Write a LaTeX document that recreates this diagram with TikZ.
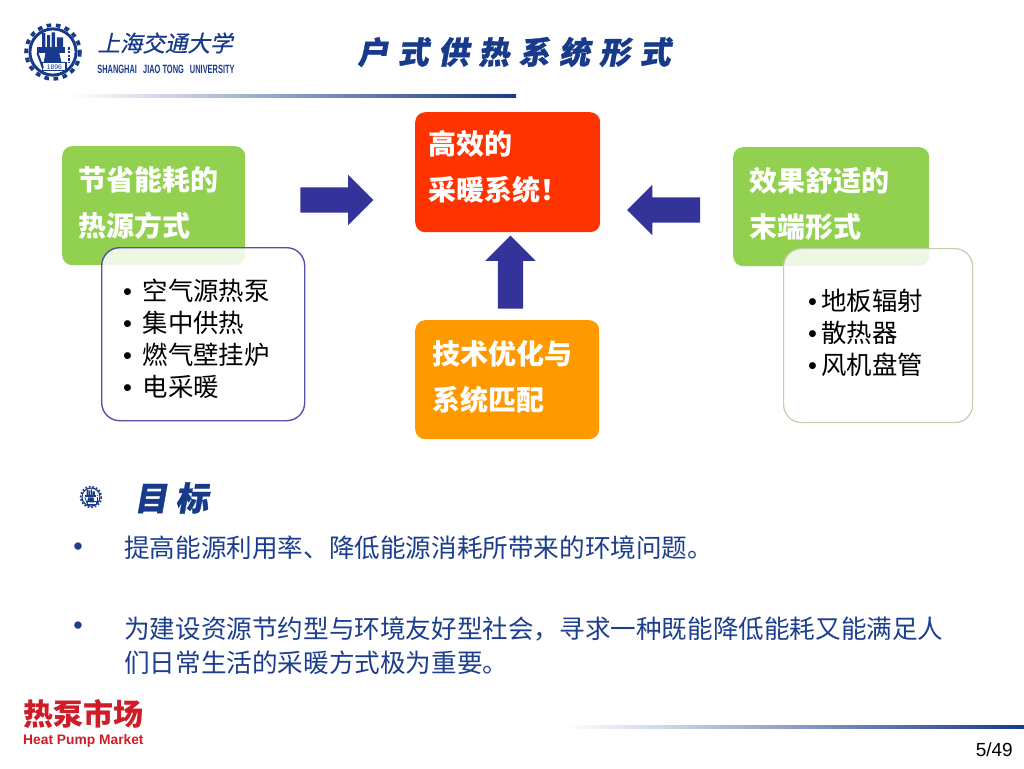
\documentclass[tikz,border=0pt]{standalone}
\usepackage{fontspec}
\setmainfont{Liberation Sans}
\newfontfamily\cjk{Noto Sans CJK SC}
\newfontfamily\cjkslant[FakeSlant=.22,FakeBold=.6]{Noto Sans CJK SC}
\newfontfamily\cjktitle[FakeSlant=.18,LetterSpace=30,BoldFeatures={FakeSlant=.18,LetterSpace=30,FakeBold=1}]{Noto Sans CJK SC}
\newfontfamily\logofont[FakeStretch=.62]{Liberation Sans}
\usetikzlibrary{shapes.arrows}
\definecolor{sjtublue}{RGB}{24,58,138}
\definecolor{bodyblue}{RGB}{28,62,140}
\definecolor{arrowblue}{RGB}{51,51,153}
\definecolor{boxgreen}{RGB}{146,208,80}
\definecolor{boxred}{RGB}{255,51,0}
\definecolor{boxorange}{RGB}{255,153,0}
\definecolor{marketred}{RGB}{206,28,40}
\tikzset{
	seal/.pic={
		\draw[sjtublue,line width=1.8*#1,dash pattern=on 2.2*#1 off 2.2*#1] (0,0) circle (12.8);
		\draw[sjtublue,line width=1.4*#1,fill=white] (0,0) circle (11);
		\fill[sjtublue] (-5.2,-9) rectangle (-3.6,-2.4) (-2.8,-8) rectangle (-1.4,-2.4) (-.6,-9.4) rectangle (1,-2.4) (1.8,-7) rectangle (4.8,-2.4);
		\fill[sjtublue] (-7.6,-2.4) rectangle (5.7,.5);
		\fill[sjtublue] (-3.6,.5) -- (3,.5) -- (4,4.8) -- (-4.4,4.8) -- cycle;
		\draw[sjtublue,line width=1*#1] (-7.4,.5) -- (-4.8,7.6);
		\draw[sjtublue,line width=.5*#1] (-4.8,5.2) rectangle (6.2,9);
		\node[transform shape,inner sep=0pt,text=sjtublue,font=\fontsize{3.2}{3.2}\selectfont] (year) at (.7,7.1) {1896};
		\draw[sjtublue,line width=1*#1,dash pattern=on 1.3*#1 off .5*#1] (7.6,-2.4) -- (7.6,5.2);
	}
}
\begin{document}
\begin{tikzpicture}
	[x=1pt,y=-1pt,
	heading/.style ={rounded corners=10pt, inner sep=0pt, anchor=north west, align=left, text=white, font=\cjk\bfseries\fontsize{28}{46}\selectfont},
	listbox/.style ={rounded corners=18pt, fill=white, fill opacity=.85, text opacity=1, inner sep=0pt, anchor=north west, align=left, font=\cjk\fontsize{25.4}{32}\selectfont},
	blockarrow/.style ={single arrow, fill=arrowblue, single arrow head extend=12.5pt, minimum width=50pt, minimum height=73pt},
	bodytext/.style ={anchor=north west, inner sep=0pt, align=left, text=bodyblue, font=\cjk\fontsize{25.6}{33.5}\selectfont},
	bulletmark/.style ={inner sep=0pt, text=bodyblue, font=\fontsize{27}{27}\selectfont},
	fade/.style ={left color=white, right color=sjtublue}]
	\useasboundingbox (0,0) rectangle (1024,768);
	% header
	\pic (sealbig) at (53,52) [scale=2.1] {seal=2.1};
	\node[inner sep=0pt, text=sjtublue, font=\cjkslant\fontsize{22.5}{22}\selectfont] (school) at (165,43) {上海交通大学};
	\node[inner sep=0pt, text=sjtublue, font=\logofont\bfseries\fontsize{12}{12}\selectfont] (schoolen) at (166,69) {SHANGHAI\hspace{4pt} JIAO TONG\hspace{4pt} UNIVERSITY};
	\node[inner sep=0pt, text=sjtublue, font=\cjktitle\bfseries\fontsize{31}{31}\selectfont] (title) at (514,52) {户式供热系统形式};
	\fill[fade] (70,94) rectangle (516,97);
	% boxes
	\node[heading, fill=boxgreen, minimum width=183pt, minimum height=119pt, text width=151pt, inner xsep=16pt, text depth=54pt] (source) at (62,146) {节省能耗的\\热源方式};
	\node[heading, fill=boxred, minimum width=185pt, minimum height=120pt, text width=159pt, inner xsep=13pt, text depth=60pt] (goal) at (415,112) {高效的\\采暖系统！};
	\node[heading, fill=boxorange, minimum width=184pt, minimum height=119pt, text width=150pt, inner xsep=17pt, text depth=55pt] (match) at (415,320) {技术优化与\\系统匹配};
	\node[heading, fill=boxgreen, minimum width=196pt, minimum height=119pt, text width=164pt, inner xsep=16pt, text depth=55pt] (terminal) at (733,147) {效果舒适的\\末端形式};
	\node[listbox, draw=arrowblue!85, line width=1.4pt, minimum width=203pt, minimum height=173pt, text width=160pt, inner xsep=21.5pt, text height=30pt] (sourcelist) at (101,247) {{\rmfamily •}\hspace{10.6pt}空气源热泵\\{\rmfamily •}\hspace{10.6pt}集中供热\\{\rmfamily •}\hspace{10.6pt}燃气壁挂炉\\{\rmfamily •}\hspace{10.6pt}电采暖};
	\node[listbox, draw=boxgreen!55!gray!55, line width=1.2pt, minimum width=189pt, minimum height=174pt, text width=140pt, inner xsep=24.5pt, text depth=71pt] (terminallist) at (783,248) {{\rmfamily •}\hspace{4.5pt}地板辐射\\{\rmfamily •}\hspace{4.5pt}散热器\\{\rmfamily •}\hspace{4.5pt}风机盘管};
	% arrows
	\node[blockarrow, inner xsep=0pt, inner ysep=12.5pt] (arrowa) at (330.5,200) {};
	\node[blockarrow, inner xsep=0pt, inner ysep=12.5pt, shape border rotate=180] (arrowb) at (670,210) {};
	\node[blockarrow, inner xsep=12.5pt, inner ysep=0pt, shape border rotate=90] (arrowc) at (510.5,278.5) {};
	% goal text
	\pic (sealsmall) at (91,497) [scale=.82] {seal=.82};
	\node[inner sep=0pt, text=sjtublue, font=\cjktitle\bfseries\fontsize{33}{33}\selectfont, anchor=west] (target) at (134,498) {目\hspace{8pt}标};
	\node[bulletmark] (b1) at (78,549) {•};
	\node[bodytext] (t1) at (124,536) {提高能源利用率、降低能源消耗所带来的环境问题。};
	\node[bulletmark] (b2) at (78,628) {•};
	\node[bodytext] (t2) at (124,617) {为建设资源节约型与环境友好型社会，寻求一种既能降低能耗又能满足人\\们日常生活的采暖方式极为重要。};
	% footer
	\node[inner sep=0pt, anchor=west, text=marketred, font=\cjk\bfseries\fontsize{30}{30}\selectfont] (market) at (23,714) {热泵市场};
	\node[inner sep=0pt, anchor=west, text=marketred, font=\bfseries\fontsize{13.8}{14}\selectfont] (marketen) at (23,741) {Heat Pump Market};
	\fill[fade] (565,725) rectangle (1024,728);
	\node[inner sep=0pt, anchor=east, font=\fontsize{19}{19}\selectfont] (page) at (1013,750) {5/49};
\end{tikzpicture}
\end{document}
